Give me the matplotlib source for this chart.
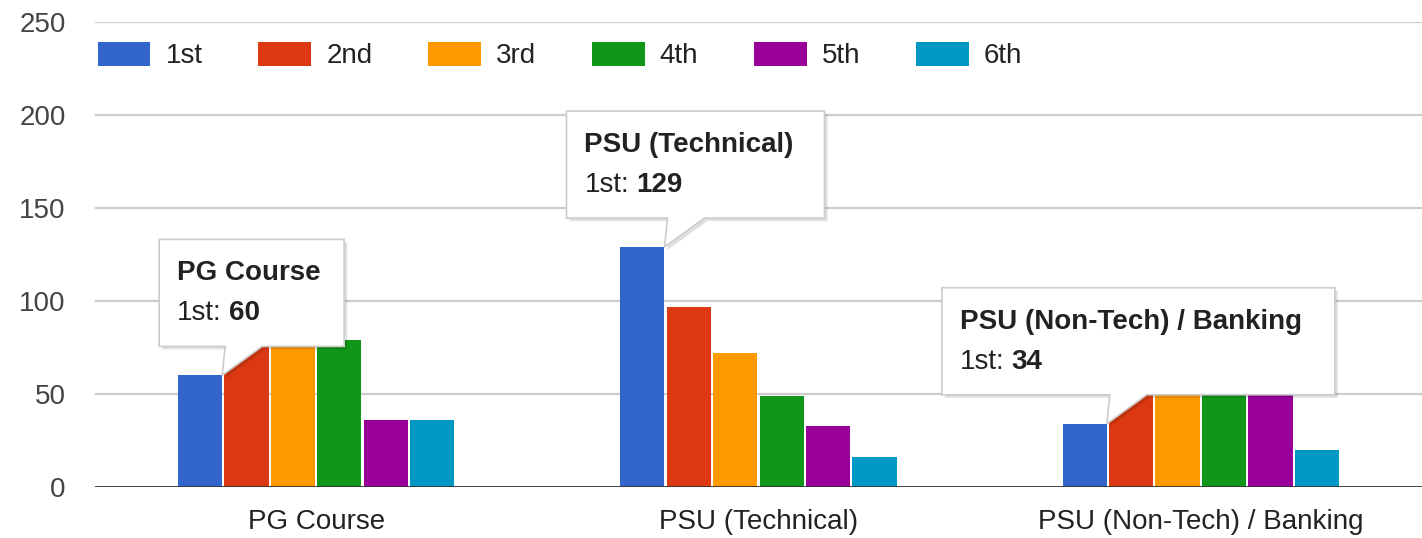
import matplotlib
matplotlib.use("Agg")
import matplotlib.pyplot as plt
import matplotlib.transforms as mtransforms
from matplotlib.patches import Polygon
import numpy as np

plt.rcParams['font.family'] = ['Liberation Sans', 'DejaVu Sans']

categories = ['PG Course', 'PSU (Technical)', 'PSU (Non-Tech) / Banking']
series_names = ['1st', '2nd', '3rd', '4th', '5th', '6th']
# values hidden behind the tooltips are estimates
values = {
    '1st': [60, 129, 34],
    '2nd': [80, 97, 60],
    '3rd': [84, 72, 58],
    '4th': [79, 49, 55],
    '5th': [36, 33, 52],
    '6th': [36, 16, 20],
}
colors = ['#3366cc', '#dc3912', '#ff9900', '#109618', '#990099', '#0099c6']
y_ticks = [0, 50, 100, 150, 200, 250]

# tooltip boxes: (category index, left offset px, right offset px)
tooltips = [(0, -63, 122), (1, -98, 160), (2, -165, 228)]

fig = plt.figure(figsize=(14.22, 5.38), dpi=100)
ax = fig.add_axes([0.0668, 0.0948, 0.9332, 0.8642])

x = np.arange(len(categories))
pitch = 0.105
width = 0.1
bars = {}
for i, name in enumerate(series_names):
    off = (i - 2.5) * pitch
    bars[name] = ax.bar(x + off, values[name], width, color=colors[i],
                        label=name, zorder=3)

ax.set_xlim(-0.5, 2.5)
ax.set_ylim(0, 250)
ax.set_yticks(y_ticks)
ax.set_xticks(x)
ax.set_xticklabels(categories, fontsize=20, color='#222222')
ax.tick_params(axis='y', length=0, pad=21, labelsize=20, labelcolor='#444444')
ax.tick_params(axis='x', length=0, pad=16)
for s in ax.spines.values():
    s.set_visible(False)
for t in y_ticks[1:]:
    ax.axhline(t, color='#cccccc', lw=1.6, zorder=1)
ax.axhline(0, color='#333333', lw=2, zorder=4)

leg = ax.legend(loc='upper left', bbox_to_anchor=(0.002, 0.958), ncol=6,
                frameon=False, fontsize=20, handlelength=1.9,
                handleheight=0.95, handletextpad=0.55, columnspacing=2.0,
                borderaxespad=0.0, borderpad=0.0)
for txt in leg.get_texts():
    txt.set_color('#222222')

# tooltips anchored at the top right corner of the 1st bar
for ci, left, right in tooltips:
    p = bars['1st'][ci]
    px = p.get_x() + p.get_width()
    py = p.get_height()
    tr = mtransforms.Affine2D() + mtransforms.ScaledTranslation(px, py, ax.transData)
    bottom, top = 29, 136
    shape = [(left, bottom), (3, bottom), (0, 0), (40, bottom),
             (right, bottom), (right, top), (left, top)]
    shadow = [(a + 3, b - 3) for a, b in shape]
    ax.add_patch(Polygon(shadow, closed=True, transform=tr, facecolor='#000000',
                         alpha=0.12, edgecolor='none', zorder=5, clip_on=False))
    ax.add_patch(Polygon(shape, closed=True, transform=tr, facecolor='white',
                         edgecolor='#cccccc', lw=1.2, zorder=6, clip_on=False))
    ax.annotate(categories[ci], (px, py), xycoords='data',
                xytext=(left + 18, 102), textcoords='offset pixels',
                fontsize=20, fontweight='bold', color='#222222',
                va='center', ha='left', zorder=7)
    lab = ax.annotate('1st:', (px, py), xycoords='data',
                      xytext=(left + 18, 62), textcoords='offset pixels',
                      fontsize=20, color='#222222', va='center', ha='left',
                      zorder=7)
    ax.annotate(str(values['1st'][ci]), (1, 0.5), xycoords=lab,
                xytext=(7, 0), textcoords='offset pixels',
                fontsize=20, fontweight='bold', color='#222222',
                va='center', ha='left', zorder=7)

fig.savefig('out.png', dpi=100)
